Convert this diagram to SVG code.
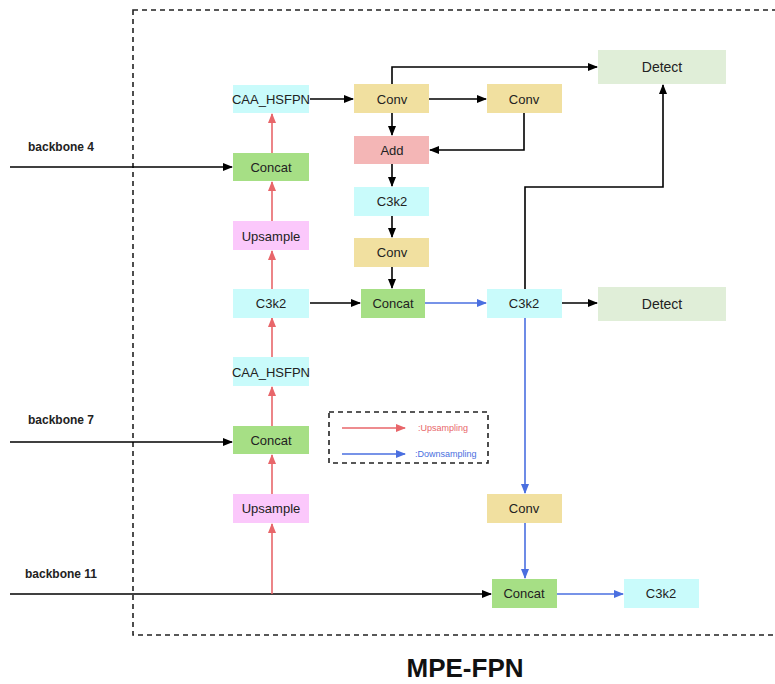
<svg xmlns="http://www.w3.org/2000/svg" width="775" height="684" viewBox="0 0 775 684">
<defs>
<marker id="ab" markerWidth="10" markerHeight="8" refX="9" refY="4" orient="auto" markerUnits="userSpaceOnUse"><path d="M0,0 L10,4 L0,8 z" fill="#000"/></marker>
<marker id="ar" markerWidth="10" markerHeight="8" refX="9" refY="4" orient="auto" markerUnits="userSpaceOnUse"><path d="M0,0 L10,4 L0,8 z" fill="#e8666a"/></marker>
<marker id="au" markerWidth="10" markerHeight="8" refX="9" refY="4" orient="auto" markerUnits="userSpaceOnUse"><path d="M0,0 L10,4 L0,8 z" fill="#4a6fe0"/></marker>
<style>
text{font-family:"Liberation Sans",Arial,sans-serif;font-size:13px;fill:#222;text-anchor:middle;dominant-baseline:central}
.cy{fill:#c9fbfb}.gr{fill:#a6df85}.ye{fill:#f1e0a0}.pk{fill:#f4b6b6}.up{fill:#fbc8fb}.de{fill:#e0eed8}
.k{stroke:#000;stroke-width:1.6;fill:none;marker-end:url(#ab)}
.r{stroke:#e8666a;stroke-width:1.6;fill:none;marker-end:url(#ar)}
.b{stroke:#4a6fe0;stroke-width:1.6;fill:none;marker-end:url(#au)}
.bb{font-weight:bold;font-size:12px;text-anchor:start}
.dash{fill:none;stroke:#222;stroke-width:1.6;stroke-dasharray:5,4}
</style>
</defs>
<rect class="dash" x="133" y="10" width="660" height="625"/>
<text class="bb" x="28" y="147">backbone 4</text>
<text class="bb" x="28" y="420">backbone 7</text>
<text class="bb" x="25" y="574">backbone 11</text>
<g id="connectors">
<path class="k" d="M10,167 H232"/>
<path class="k" d="M10,442 H232"/>
<path class="k" d="M10,594 H491"/>
<path class="r" d="M272,594 V524"/>
<path class="r" d="M272,494 V455"/>
<path class="r" d="M272,426 V387"/>
<path class="r" d="M272,357 V318"/>
<path class="r" d="M272,289 V251"/>
<path class="r" d="M272,221 V182"/>
<path class="r" d="M272,153 V114"/>
<path class="k" d="M310,99 H353"/>
<path class="k" d="M429,99 H486"/>
<path class="k" d="M392,84 V67 H597"/>
<path class="k" d="M392,113 V135"/>
<path class="k" d="M524,113 V150 H430"/>
<path class="k" d="M392,164 V186"/>
<path class="k" d="M392,216 V237"/>
<path class="k" d="M392,267 V288"/>
<path class="k" d="M310,303 H360"/>
<path class="b" d="M425,303 H486"/>
<path class="k" d="M562,303 H597"/>
<path class="k" d="M525,289 V187 H663 V85"/>
<path class="b" d="M525,318 V493"/>
<path class="b" d="M525,523 V578"/>
<path class="b" d="M557,594 H623"/>
</g>
<g id="caa1"><rect class="cy" x="233" y="85" width="76" height="28"/><text x="271" y="99">CAA_HSFPN</text></g>
<g id="concat1"><rect class="gr" x="233" y="153" width="76" height="28"/><text x="271" y="167">Concat</text></g>
<g id="upsample1"><rect class="up" x="233" y="221" width="76" height="29"/><text x="271" y="236">Upsample</text></g>
<g id="c3k2a"><rect class="cy" x="233" y="289" width="76" height="29"/><text x="271" y="303">C3k2</text></g>
<g id="caa2"><rect class="cy" x="233" y="357" width="76" height="29"/><text x="271" y="372">CAA_HSFPN</text></g>
<g id="concat2"><rect class="gr" x="233" y="426" width="76" height="28"/><text x="271" y="440">Concat</text></g>
<g id="upsample2"><rect class="up" x="233" y="494" width="76" height="29"/><text x="271" y="508">Upsample</text></g>
<g id="conv1"><rect class="ye" x="354" y="84" width="75" height="29"/><text x="392" y="99">Conv</text></g>
<g id="conv2"><rect class="ye" x="487" y="84" width="75" height="29"/><text x="524" y="99">Conv</text></g>
<g id="add"><rect class="pk" x="354" y="136" width="75" height="28"/><text x="392" y="150">Add</text></g>
<g id="c3k2b"><rect class="cy" x="354" y="187" width="75" height="29"/><text x="392" y="201">C3k2</text></g>
<g id="conv3"><rect class="ye" x="354" y="238" width="75" height="29"/><text x="392" y="252">Conv</text></g>
<g id="concat3"><rect class="gr" x="361" y="289" width="64" height="29"/><text x="393" y="303">Concat</text></g>
<g id="c3k2c"><rect class="cy" x="487" y="289" width="75" height="29"/><text x="524" y="303">C3k2</text></g>
<g id="detect1"><rect class="de" x="598" y="50" width="128" height="34"/><text x="662" y="67" style="font-size:14px">Detect</text></g>
<g id="detect2"><rect class="de" x="598" y="287" width="128" height="34"/><text x="662" y="304" style="font-size:14px">Detect</text></g>
<g id="conv4"><rect class="ye" x="487" y="494" width="75" height="29"/><text x="524" y="508">Conv</text></g>
<g id="concat4"><rect class="gr" x="492" y="579" width="65" height="29"/><text x="524" y="593">Concat</text></g>
<g id="c3k2d"><rect class="cy" x="624" y="579" width="75" height="29"/><text x="661" y="593">C3k2</text></g>
<g id="legend">
<rect class="dash" x="329" y="412" width="159" height="51"/>
<path class="r" d="M342,428 H405"/>
<path class="b" d="M342,454 H405"/>
<text x="418" y="428" style="font-size:9px;fill:#e8666a;text-anchor:start">:Upsampling</text>
<text x="415" y="454" style="font-size:9px;fill:#4a6fe0;text-anchor:start">:Downsampling</text>
</g>
<text x="465" y="668" style="font-size:26px;font-weight:bold;fill:#111">MPE-FPN</text>
</svg>
